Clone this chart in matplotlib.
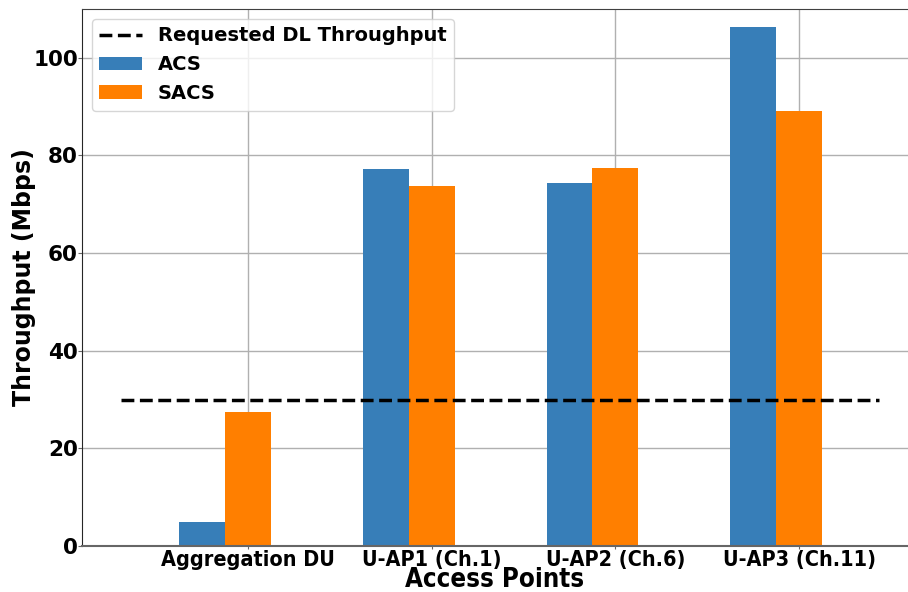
import numpy as np
import matplotlib
matplotlib.use("Agg")
import matplotlib.pyplot as plt

# throughput per access point (Mbps)
access_points = ["Aggregation DU", "U-AP1 (Ch.1)", "U-AP2 (Ch.6)", "U-AP3 (Ch.11)"]
acs = [4.9, 77.3, 74.4, 106.3]
sacs = [27.4, 73.8, 77.5, 89.2]
requested_dl = 30

plt.rcParams["font.family"] = "DejaVu Sans"
plt.rcParams["font.weight"] = "bold"

fig = plt.figure(figsize=(9.08, 5.92), dpi=100)
ax = fig.add_axes([0.0903, 0.0777, 0.9097, 0.9071])

x = np.arange(len(access_points))
width = 0.25

ax.hlines(requested_dl, -0.69, 3.43, colors="black", linestyles="--", linewidth=2.5,
          label="Requested DL Throughput", zorder=3)
ax.bar(x - width, acs, width, color="#377eb8", label="ACS", zorder=2)
ax.bar(x, sacs, width, color="#ff7f00", label="SACS", zorder=2)

ax.set_xlim(-0.9, 3.59)
ax.set_ylim(0, 110)
ax.set_yticks(range(0, 101, 20))
ax.set_xticks(x)
ax.set_xticklabels(access_points, fontsize=15.5, fontweight="bold", fontstretch="condensed")
ax.tick_params(axis="y", labelsize=15.5, colors="0.4", labelcolor="black", length=3, pad=0)
ax.tick_params(axis="x", colors="0.4", labelcolor="black", length=2, pad=1)
for lbl in ax.get_yticklabels():
    lbl.set_fontweight("bold")

ax.set_xlabel("Access Points", fontsize=18.5, fontweight="bold", fontstretch="condensed", labelpad=-2)
ax.set_ylabel("Throughput (Mbps)", fontsize=17, fontweight="bold", labelpad=-2)

ax.grid(True, color="#b0b0b0", linewidth=1, zorder=0)
ax.set_axisbelow(True)

ax.spines["right"].set_visible(False)
ax.spines["top"].set_color("0.25")
ax.spines["left"].set_color("0.15")
ax.spines["bottom"].set_color("0.4")
ax.spines["bottom"].set_linewidth(1.5)

leg = ax.legend(loc="upper left", prop={"weight": "bold", "size": 14},
                handlelength=2.2, borderaxespad=0.5)

fig.savefig("out.png", dpi=100)
